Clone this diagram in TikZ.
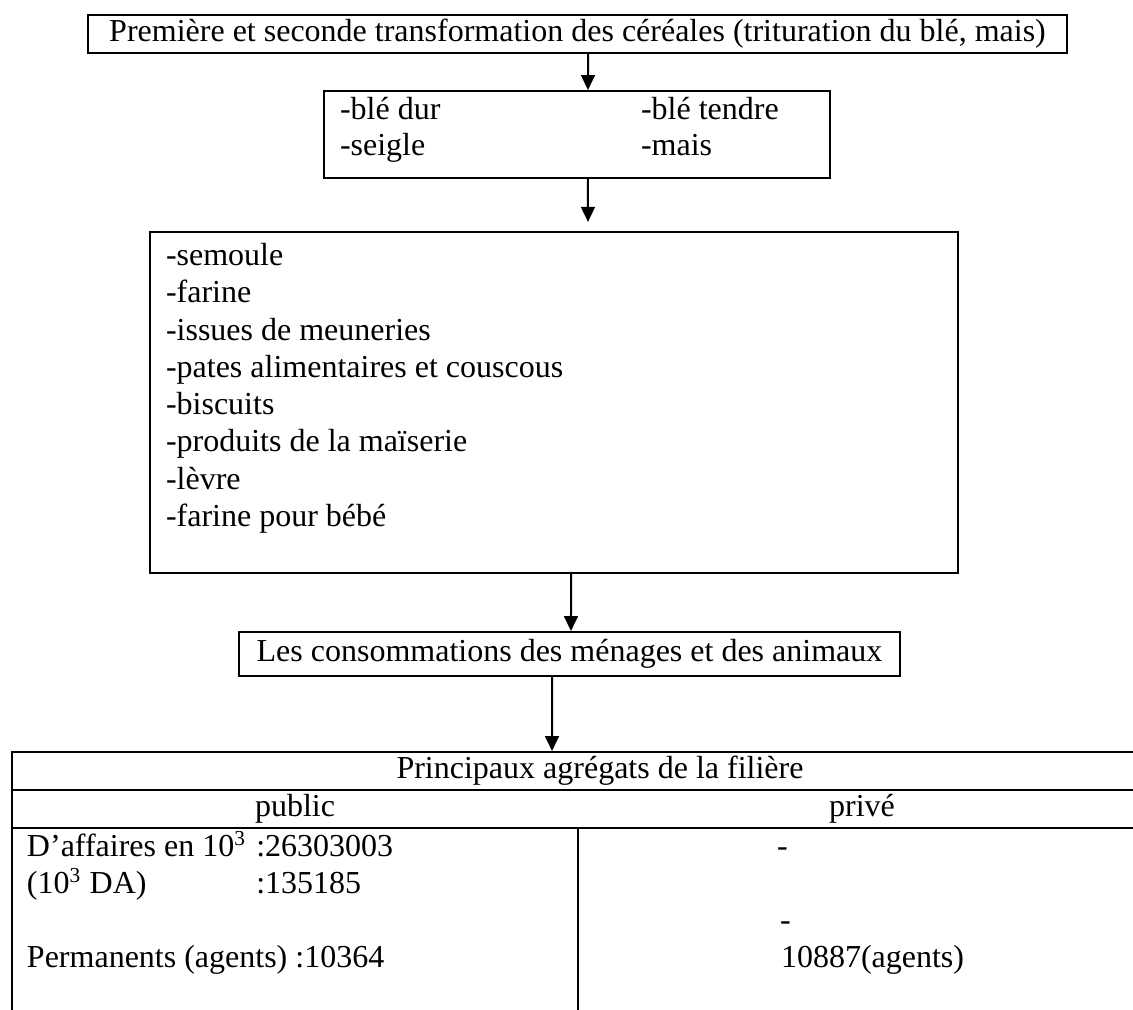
\documentclass[tikz,border=0pt]{standalone}
\usepackage{fontspec}
\setmainfont{Liberation Serif}
\usepackage{tikz}
\usetikzlibrary{
    arrows.meta,
    positioning
}
\tikzset{
    box/.style={draw, line width=0.75pt, inner sep=0pt},
    txt/.style={anchor=base west, inner sep=0pt},
    cell/.style={inner sep=0pt, minimum height=14.25pt}
}

\begin{document}
\begin{tikzpicture}[x=0.375pt, y=-0.375pt, line width=0.75pt,
        >={Triangle[width=5.2pt, length=5.6pt]},
        every node/.style={font=\fontsize{12pt}{14pt}\selectfont}]
        \clip (0,0) rectangle (1133,1010);
        \draw (577.5,34) node[box, minimum width=367.1pt, minimum height=14.25pt](top){Première et seconde transformation des céréales (trituration du blé, mais)\hspace{4pt}};
        \draw (577,134.5) node[box, minimum width=189.75pt, minimum height=32.6pt](grains){};
        \draw (339,120) node[txt](dur){-blé dur};
        \draw (640,120) node[txt](tendre){-blé tendre};
        \draw (339,156) node[txt](seigle){-seigle};
        \draw (640,156) node[txt](mais){-mais};
        \draw (554,402.5) node[box, minimum width=303pt, minimum height=127.9pt](prod){};
        \draw (165,265.5) node[txt](semoule){-semoule};
        \draw (165,302.8) node[txt](farine){-farine};
        \draw (165,340.1) node[txt](issues){-issues de meuneries};
        \draw (165,377.4) node[txt](pates){-pates alimentaires et couscous};
        \draw (165,414.7) node[txt](biscuits){-biscuits};
        \draw (165,452.0) node[txt](maiserie){-produits de la maïserie};
        \draw (165,489.3) node[txt](levre){-lèvre};
        \draw (165,526.6) node[txt](bebe){-farine pour bébé};
        \draw (569.5,654) node[box, minimum width=247.9pt, minimum height=16.5pt](conso){Les consommations des ménages et des animaux};
        % table
        \draw (600,771) node[cell](aggr){Principaux agrégats de la filière};
        \draw (295,809) node[cell](pub){public};
        \draw (862,809) node[cell](priv){privé};
        \draw (12,1010) -- (12,752) -- (1133,752);
        \draw (12,790) -- (1133,790);
        \draw (12,828) -- (1133,828);
        \draw (578,828) -- (578,1010);
        \draw (26,857) node[txt](ca){D’affaires en 10\textsuperscript{3}};
        \node[txt] (caval) at ([xshift=3pt]ca.base east) {:26303003};
        \draw (26,894) node[txt](da){(10\textsuperscript{3} DA)};
        \node[txt] (daval) at (caval.base west |- da.base) {:135185};
        \draw (26,968) node[txt](perm){Permanents (agents) :10364};
        \draw (776,857) node[txt](privca){-};
        \draw (779,931) node[txt](privda){-};
        \draw (780,968) node[txt](privperm){10887(agents)};
        % arrows
        \draw[->] ([xshift=4pt]top.south) to ([xshift=4.1pt]grains.north);
        \draw[->] ([xshift=4.1pt]grains.south) to ([xshift=12.75pt, yshift=3.4pt]prod.north);
        \draw[->] ([xshift=6.4pt]prod.south) to ([xshift=0.55pt]conso.north);
        \draw[->] ([xshift=-6.55pt]conso.south) to ([xshift=-18pt]aggr.north);
\end{tikzpicture}
\end{document}
